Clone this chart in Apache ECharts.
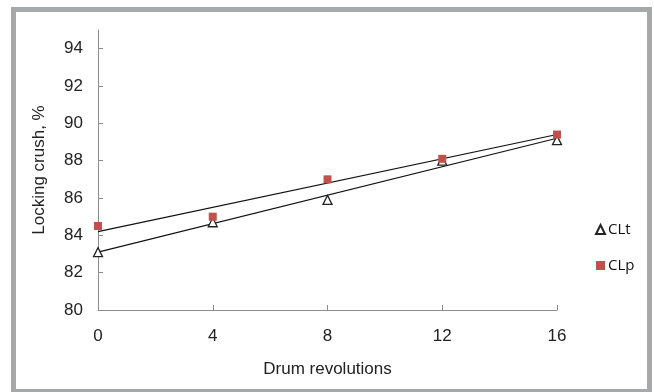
<!DOCTYPE html>
<html>
<head>
<meta charset="utf-8">
<script src="https://cdn.jsdelivr.net/npm/echarts@6/dist/echarts.min.js"></script>
<style>
  html, body { margin: 0; padding: 0; background: #fff; }
  #chart { width: 654px; height: 392px; }
</style>
</head>
<body>
<div id="chart"></div>
<script>
// drum revolutions
const revolutions = [0, 4, 8, 12, 16];
// measured points
const clt = [83.1, 84.7, 85.9, 88.0, 89.1];
const clp = [84.5, 85.0, 87.0, 88.1, 89.4];
// trend line ends (at 0 and 16)
const trendX = [0, 16];
const trendClt = [83.1, 89.2];
const trendClp = [84.2, 89.4];
const yTicks = [80, 82, 84, 86, 88, 90, 92, 94];
const xTicks = [0, 4, 8, 12, 16];

const chart = echarts.init(document.getElementById('chart'));

const pairs = (xs, ys) => xs.map((x, i) => [x, ys[i]]);

const axisGray = '#8c8c8c';

const option = {
  animation: false,
  graphic: [{
    type: 'rect',
    shape: { x: 13.5, y: 9.5, width: 636, height: 382 },
    style: { fill: 'none', stroke: '#a7a8aa', lineWidth: 5 },
    silent: true
  }],
  grid: { left: 98, right: 97, top: 30, bottom: 82 },
  legend: {
    orient: 'vertical',
    left: 590,
    top: 217,
    itemGap: 21,
    itemWidth: 9,
    itemHeight: 9,
    data: ['CLt', 'CLp'],
    textStyle: { fontFamily: 'Open Sans', fontSize: 15, color: '#111', padding: [0, 0, 0, -2] }
  },
  xAxis: {
    type: 'value',
    min: 0,
    max: 16,
    interval: 4,
    name: 'Drum revolutions',
    nameLocation: 'middle',
    nameGap: 51,
    nameTextStyle: { fontFamily: 'Liberation Sans', fontSize: 17, color: '#222' },
    axisLine: { lineStyle: { color: axisGray } },
    axisTick: { inside: true, length: 5, lineStyle: { color: axisGray }, customValues: xTicks },
    axisLabel: { fontFamily: 'Liberation Sans', fontSize: 17, color: '#222', margin: 18, customValues: xTicks },
    splitLine: { show: false }
  },
  yAxis: {
    type: 'value',
    min: 80,
    max: 95,
    name: 'Locking crush, %',
    nameLocation: 'middle',
    nameGap: 50,
    nameTextStyle: { fontFamily: 'Liberation Sans', fontSize: 17, color: '#222' },
    axisLine: { show: true, lineStyle: { color: axisGray } },
    axisTick: { show: true, inside: true, length: 5, lineStyle: { color: axisGray }, customValues: yTicks },
    axisLabel: { fontFamily: 'Liberation Sans', fontSize: 17, color: '#222', margin: 15, customValues: yTicks },
    splitLine: { show: false }
  },
  series: [
    {
      name: 'CLt trend',
      type: 'line',
      data: pairs(trendX, trendClt),
      symbol: 'none',
      lineStyle: { color: '#111', width: 1.2 },
      z: 1
    },
    {
      name: 'CLp trend',
      type: 'line',
      data: pairs(trendX, trendClp),
      symbol: 'none',
      lineStyle: { color: '#111', width: 1.2 },
      z: 1
    },
    {
      name: 'CLt',
      type: 'scatter',
      data: pairs(revolutions, clt),
      symbol: 'triangle',
      symbolSize: 9,
      itemStyle: { color: '#fff', borderColor: '#222', borderWidth: 1.3, opacity: 1 },
      z: 3
    },
    {
      name: 'CLp',
      type: 'scatter',
      data: pairs(revolutions, clp),
      symbol: 'rect',
      symbolSize: 8,
      itemStyle: { color: '#c0504d', opacity: 1 },
      z: 3
    }
  ]
};

chart.setOption(option);
</script>
</body>
</html>
